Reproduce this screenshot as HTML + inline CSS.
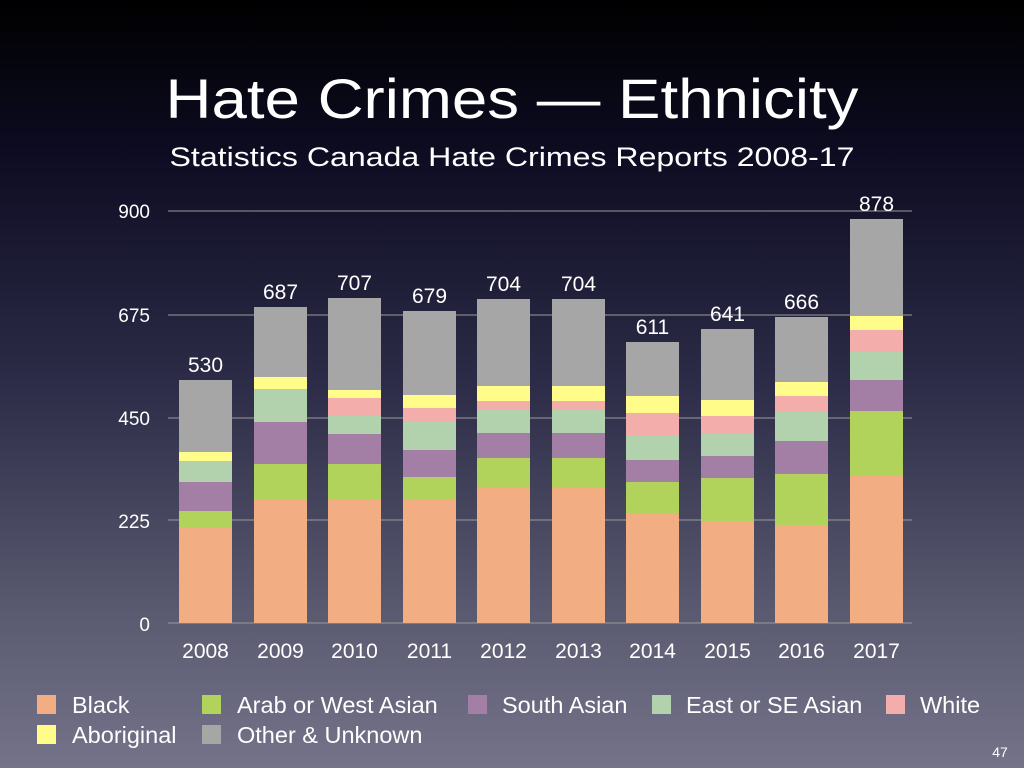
<!DOCTYPE html>
<html><head><meta charset="utf-8"><style>
html,body{margin:0;padding:0;}
body{width:1024px;height:768px;overflow:hidden;background:linear-gradient(#000 0%,#0d0c22 20%,#2d2c48 50%,#5a5a70 80%,#74738a 100%);}
svg{display:block;font-family:"Liberation Sans",sans-serif;}
</style></head><body>
<svg width="1024" height="768" xmlns="http://www.w3.org/2000/svg">
<text x="512" y="118" fill="#fff" font-size="56" text-anchor="middle" textLength="693" lengthAdjust="spacingAndGlyphs">Hate Crimes — Ethnicity</text>
<text x="512" y="166" fill="#fff" font-size="27" text-anchor="middle" textLength="685" lengthAdjust="spacingAndGlyphs">Statistics Canada Hate Crimes Reports 2008-17</text>
<g stroke="#9a9a9a" stroke-width="1">
<line x1="168" x2="912" y1="211" y2="211"/><line x1="168" x2="912" y1="315" y2="315"/>
<line x1="168" x2="912" y1="418" y2="418"/><line x1="168" x2="912" y1="520" y2="520"/>
<line x1="168" x2="912" y1="623" y2="623"/></g>
<g fill="#fff" font-size="19" text-anchor="end">
<text x="150" y="218">900</text><text x="150" y="322">675</text><text x="150" y="425">450</text><text x="150" y="528">225</text><text x="150" y="631">0</text></g>
<g id="bars"></g>
<g fill="#fff" font-size="21" text-anchor="middle" id="xl"></g>
<g font-size="23.5" fill="#fff">
<rect x="37" y="695" width="19" height="19" fill="#f2ae82"/><text x="72" y="713">Black</text>
<rect x="202" y="695" width="19" height="19" fill="#b1d35c"/><text x="237" y="713">Arab or West Asian</text>
<rect x="468" y="695" width="19" height="19" fill="#a37fa6"/><text x="502" y="713">South Asian</text>
<rect x="652" y="695" width="19" height="19" fill="#b2d2ad"/><text x="686" y="713">East or SE Asian</text>
<rect x="886" y="695" width="19" height="19" fill="#f3aeac"/><text x="920" y="713">White</text>
<rect x="37" y="725" width="19" height="19" fill="#fffc8a"/><text x="72" y="743">Aboriginal</text>
<rect x="202" y="725" width="19" height="19" fill="#a6a6a6"/><text x="237" y="743">Other &amp; Unknown</text>
</g>
<text x="1000" y="757" fill="#fff" font-size="14" text-anchor="middle">47</text>
</svg>
<script>
const xs=[179,254,328,403,477,552,626,701,775,850];
const yrs=[2008,2009,2010,2011,2012,2013,2014,2015,2016,2017];
const tot=[530,687,707,679,704,704,611,641,666,878];
const b=[[380,452,461,461,482,511,528],[307,377,389,389,422,464,499],[298,390,398,415,434,464,499],[311,395,408,422,450,477,500],[299,386,401,410,433,458,488],[299,386,401,410,433,458,488],[342,396,413,436,460,482,514],[329,400,416,434,456,478,521],[317,382,396,412,441,474,525],[219,316,330,352,380,411,476]];
const cols=["#a6a6a6","#fffc8a","#f3aeac","#b2d2ad","#a37fa6","#b1d35c","#f2ae82"];
let h="",t="";
b.forEach((r,i)=>{const y=r.concat([623]);for(let k=0;k<7;k++){if(y[k+1]>y[k])h+=`<rect x="${xs[i]}" y="${y[k]}" width="53" height="${y[k+1]-y[k]}" fill="${cols[k]}"/>`;}
t+=`<text x="${xs[i]+26.5}" y="${r[0]-8}">${tot[i]}</text><text x="${xs[i]+26.5}" y="658">${yrs[i]}</text>`;});
document.getElementById("bars").innerHTML=h;document.getElementById("xl").innerHTML=t;
</script>
</body></html>
